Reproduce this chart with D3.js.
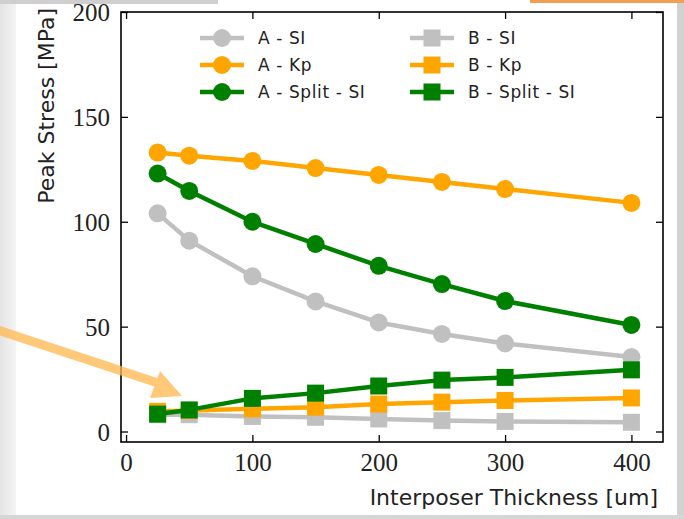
<!DOCTYPE html>
<html>
<head>
<meta charset="utf-8">
<script src="https://cdn.jsdelivr.net/npm/d3@7"></script>
<style>
  html, body { margin: 0; padding: 0; background: #fff; }
  svg { display: block; }
  .tick-lbl { font-family: "Liberation Serif", serif; font-size: 25px; fill: #222; }
  .ax-lbl { font-family: "DejaVu Sans", sans-serif; font-size: 22px; fill: #222; }
  .leg-txt { font-family: "DejaVu Sans", sans-serif; font-size: 17px; letter-spacing: 0.6px; fill: #222; }
</style>
</head>
<body>
<div id="chart"></div>
<script>
// thickness values on x
var thickness = [25, 50, 100, 150, 200, 250, 300, 400];

// peak stress per series (MPa)
var aSI      = [104, 91, 74, 62, 52, 46.5, 42, 35.5];
var aKp      = [133, 131.5, 129, 125.6, 122.3, 119, 115.6, 109];
var aSplitSI = [123, 114.7, 100, 89.4, 79, 70.3, 62.2, 50.8];
var bSI      = [8, 8, 7.2, 6.8, 6, 5.2, 4.8, 4.4];
var bKp      = [9.6, 10, 10.8, 11.6, 13.1, 14, 14.8, 16];
var bSplitSI = [8.3, 10.3, 15.8, 18.3, 21.7, 24.5, 25.8, 29.4];

var xTicks = [0, 100, 200, 300, 400];
var yTicks = [0, 50, 100, 150, 200];

var series = [
  { name: 'A - SI', vals: aSI, color: '#c0c0c0', marker: 'circle' },
  { name: 'A - Kp', vals: aKp, color: '#ffa500', marker: 'circle' },
  { name: 'A - Split - SI', vals: aSplitSI, color: '#008000', marker: 'circle' },
  { name: 'B - SI', vals: bSI, color: '#c0c0c0', marker: 'square' },
  { name: 'B - Kp', vals: bKp, color: '#ffa500', marker: 'square' },
  { name: 'B - Split - SI', vals: bSplitSI, color: '#008000', marker: 'square' }
];

var W = 684, H = 519;
var cfg = { left: 121, right: 663, top: 12, bottom: 442, tick: 7, r: 9, sq: 17, lw: 4.5 };

var svg = d3.select('#chart').append('svg')
  .attr('width', W).attr('height', H);

// slide background bits
var defs = svg.append('defs');
var grad = defs.append('linearGradient').attr('id', 'leftgrad')
  .attr('x1', 0).attr('x2', 1).attr('y1', 0).attr('y2', 0);
grad.append('stop').attr('offset', '0%').attr('stop-color', '#e4e4e4');
grad.append('stop').attr('offset', '100%').attr('stop-color', '#f4f4f4');

svg.append('rect').attr('x', 0).attr('y', 0).attr('width', W).attr('height', H).attr('fill', '#fff');
svg.append('rect').attr('x', 0).attr('y', 0).attr('width', 16).attr('height', H).attr('fill', 'url(#leftgrad)');
svg.append('rect').attr('x', 677).attr('y', 0).attr('width', 7).attr('height', H).attr('fill', '#d2d2d2');
svg.append('rect').attr('x', 0).attr('y', 515).attr('width', W).attr('height', 4).attr('fill', '#d6d6d6');
svg.append('rect').attr('x', 0).attr('y', 0).attr('width', 218).attr('height', 4).attr('fill', '#cfcfcf');
svg.append('rect').attr('x', 530).attr('y', 0).attr('width', 154).attr('height', 3).attr('fill', '#f0a050');

var x = d3.scaleLinear().domain([-4, 425]).range([cfg.left, cfg.right]);
var y = d3.scaleLinear().domain([-5, 200]).range([cfg.bottom, cfg.top]);

// axes (ticks inward on all four sides)
var pw = cfg.right - cfg.left, ph = cfg.bottom - cfg.top;
function noDomain(g) { g.select('.domain').remove(); }

svg.append('g').attr('transform', 'translate(0,' + cfg.bottom + ')')
  .call(d3.axisBottom(x).tickValues(xTicks).tickSize(-cfg.tick))
  .call(noDomain)
  .call(function(g) {
    g.selectAll('.tick line').attr('stroke', '#000').attr('stroke-width', 1.3);
    g.selectAll('.tick text').attr('class', 'tick-lbl').attr('dy', '0.71em').attr('y', 11);
  });
svg.append('g').attr('transform', 'translate(0,' + cfg.top + ')')
  .call(d3.axisTop(x).tickValues(xTicks).tickSize(-cfg.tick).tickFormat(''))
  .call(noDomain)
  .call(function(g) { g.selectAll('.tick line').attr('stroke', '#000').attr('stroke-width', 1.3); });
svg.append('g').attr('transform', 'translate(' + cfg.left + ',0)')
  .call(d3.axisLeft(y).tickValues(yTicks).tickSize(-cfg.tick))
  .call(noDomain)
  .call(function(g) {
    g.selectAll('.tick line').attr('stroke', '#000').attr('stroke-width', 1.3);
    g.selectAll('.tick text').attr('class', 'tick-lbl').attr('x', -11).attr('dy', '0.34em');
  });
svg.append('g').attr('transform', 'translate(' + cfg.right + ',0)')
  .call(d3.axisRight(y).tickValues(yTicks).tickSize(-cfg.tick).tickFormat(''))
  .call(noDomain)
  .call(function(g) { g.selectAll('.tick line').attr('stroke', '#000').attr('stroke-width', 1.3); });

svg.append('rect')
  .attr('x', cfg.left).attr('y', cfg.top).attr('width', pw).attr('height', ph)
  .attr('fill', 'none').attr('stroke', '#000').attr('stroke-width', 1.6);

// axis labels
svg.append('text').attr('class', 'ax-lbl')
  .attr('x', 658).attr('y', 505).attr('text-anchor', 'end')
  .text('Interposer Thickness [um]');
svg.append('text').attr('class', 'ax-lbl')
  .attr('transform', 'translate(54,8) rotate(-90)')
  .attr('text-anchor', 'end')
  .text('Peak Stress [MPa]');

// series
var line = d3.line()
  .x(function(d, i) { return x(thickness[i]); })
  .y(function(d) { return y(d); });

function drawMarker(g, type, cx, cy, color) {
  if (type === 'circle') {
    g.append('circle').attr('cx', cx).attr('cy', cy).attr('r', cfg.r).attr('fill', color);
  } else {
    g.append('rect').attr('x', cx - cfg.sq / 2).attr('y', cy - cfg.sq / 2)
      .attr('width', cfg.sq).attr('height', cfg.sq).attr('fill', color);
  }
}

var plot = svg.append('g');
series.forEach(function(s) {
  var g = plot.append('g');
  g.append('path').datum(s.vals)
    .attr('d', line)
    .attr('fill', 'none')
    .attr('stroke', s.color)
    .attr('stroke-width', cfg.lw)
    .attr('stroke-linejoin', 'round');
  s.vals.forEach(function(v, i) {
    drawMarker(g, s.marker, x(thickness[i]), y(v), s.color);
  });
});

// legend, two columns
var legX = [200, 410], legY = [38, 65, 92];
series.forEach(function(s, i) {
  var col = Math.floor(i / 3), row = i % 3;
  var lx = legX[col], ly = legY[row];
  var g = svg.append('g');
  g.append('line').attr('x1', lx).attr('x2', lx + 44).attr('y1', ly).attr('y2', ly)
    .attr('stroke', s.color).attr('stroke-width', cfg.lw);
  drawMarker(g, s.marker, lx + 22, ly, s.color);
  g.append('text').attr('class', 'leg-txt')
    .attr('x', lx + 58).attr('y', ly).attr('dy', '0.36em')
    .text(s.name);
});

// annotation arrow from the slide
var arrow = svg.append('g').attr('opacity', 0.75);
arrow.append('line')
  .attr('x1', -2).attr('y1', 330).attr('x2', 164).attr('y2', 385)
  .attr('stroke', '#ffb84d').attr('stroke-width', 9);
arrow.append('path')
  .attr('d', 'M182,396 L160,371 L150,398 Z')
  .attr('fill', '#ffb84d');
</script>
</body>
</html>
